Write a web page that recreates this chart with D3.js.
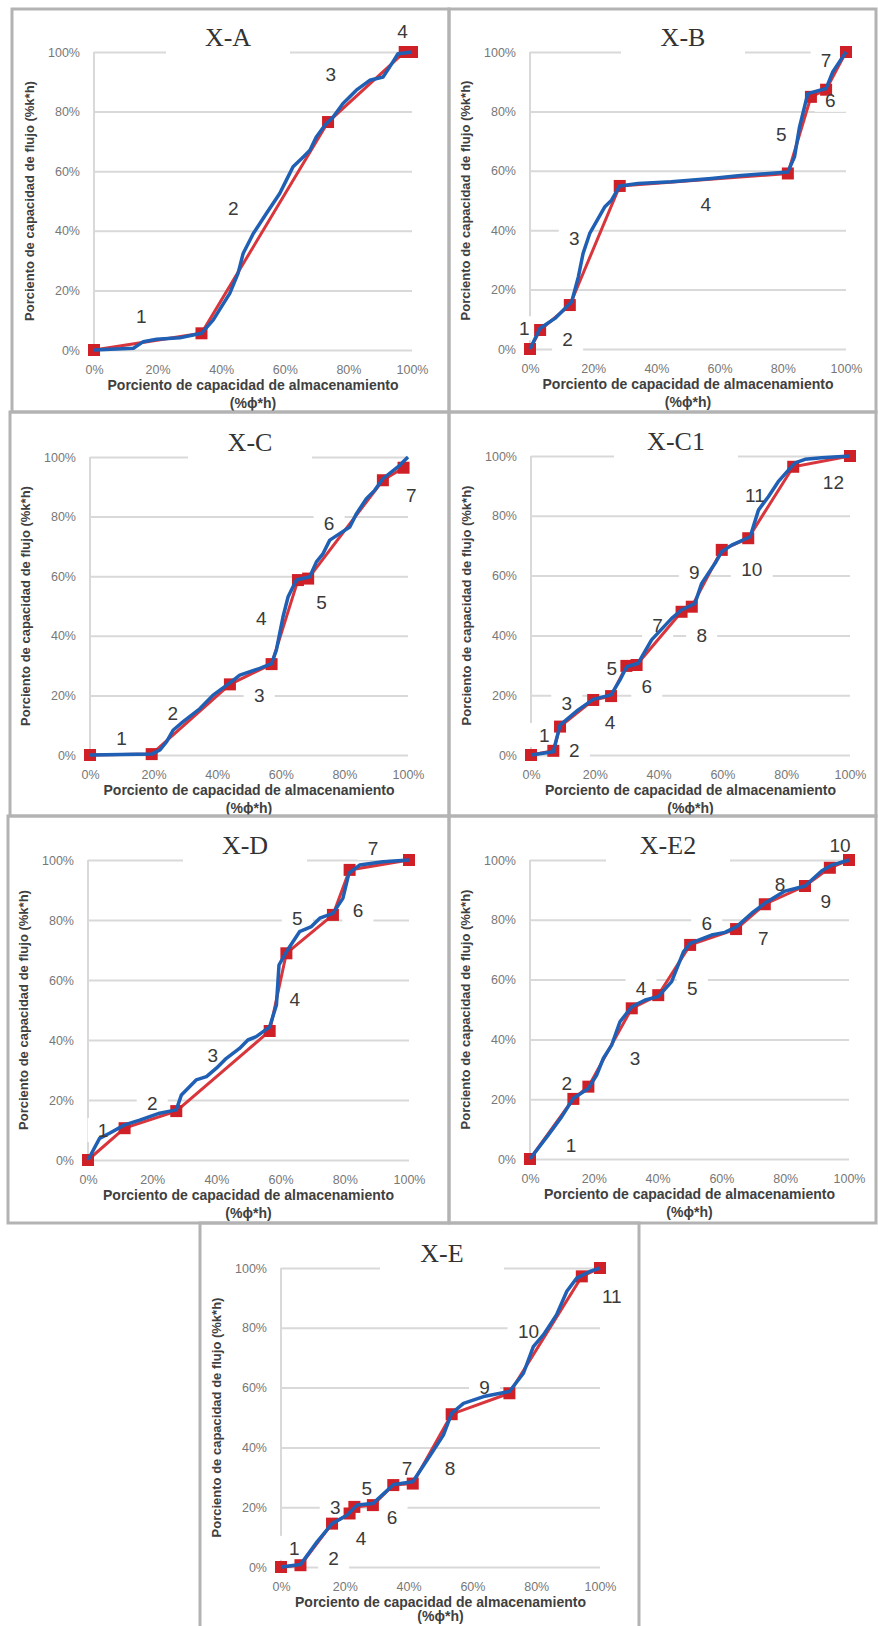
<!DOCTYPE html>
<html>
<head>
<meta charset="utf-8">
<script src="https://cdn.jsdelivr.net/npm/d3@7"></script>
<style>
body { margin: 0; background: #fff; }
svg { display: block; }
.tick text { font-family: "Liberation Sans", Arial, sans-serif; font-size: 12.5px; fill: #777; }
.ax-title { font-family: "Liberation Sans", Arial, sans-serif; font-weight: bold; fill: #404040; }
.num { font-family: "Liberation Sans", Arial, sans-serif; font-size: 19px; fill: #3a3a3a; }
.ptitle { font-family: "Liberation Serif", "Times New Roman", serif; font-size: 26px; fill: #333; }
</style>
</head>
<body>
<svg id="chart" width="878" height="1626"></svg>
<script>
'use strict';

// panel names and shared axis texts
const titles = ['X-A', 'X-B', 'X-C', 'X-C1', 'X-D', 'X-E2', 'X-E'];
const tickValues = [0, 20, 40, 60, 80, 100];
const xTitle = 'Porciento de capacidad de almacenamiento';
const xUnit = '(%ϕ*h)';
const yTitle = 'Porciento de capacidad de flujo (%k*h)';

// [storage %, flow %] - red = flow units (markers), blue = detailed curve
const redXA = [[0, 0], [33.8, 5.6], [73.6, 76.5], [97.7, 100], [100, 100]];
const blueXA = [[0, 0], [12.4, 0.6], [15.5, 2.8], [19.7, 3.6], [27, 4.1], [33.8, 5.6], [37.5, 10.1], [42.7, 19], [45.3, 25.7], [46.9, 32.4], [50.1, 39.1], [54.2, 45.8], [58.4, 52.5], [60.5, 57], [62.6, 61.5], [65.8, 64.8], [67.9, 67], [69.9, 71.5], [72.6, 75.4], [75.2, 78.2], [78.3, 82.7], [82.5, 87.2], [86.7, 90.5], [90.9, 91.6], [93, 95], [95.6, 99.4], [100, 100]];
const labXA = [[14.9, 11.2], [43.8, 47.5], [74.5, 92.7], [97, 107]];

const redXB = [[0, 0], [3.2, 6.4], [12.6, 14.8], [28.4, 54.9], [81.6, 59.1], [88.9, 84.9], [93.7, 87.3], [100, 100]];
const blueXB = [[0, 0], [3.2, 7], [7.9, 10.3], [13.2, 15.9], [15.3, 24.3], [16.8, 32.2], [18.9, 38.9], [23.7, 47.9], [25.8, 50.1], [28.4, 54.9], [34.2, 55.7], [44.7, 56.3], [57.4, 57.4], [65.8, 58.3], [81.6, 59.6], [83.7, 64.7], [85.3, 74.8], [87.9, 86], [93.7, 87.7], [95.8, 93.3], [100, 100]];
const labXB = [[-1.8, 7], [11.9, 3.3], [14, 37.2], [55.6, 48.8], [79.5, 72.5], [95, 83.9], [93.7, 97.2]];

const redXC = [[0, 0], [19.4, 0.3], [44, 23.7], [57.1, 30.5], [65.4, 58.7], [68.6, 59.2], [92.1, 92.2], [98.6, 96.4]];
const blueXC = [[0, 0], [19.4, 0.3], [22, 1.7], [24.1, 4.5], [26.2, 8.4], [29.3, 11.2], [34.6, 15.6], [38.7, 20.1], [44, 24.2], [47.1, 26.8], [53.4, 29.1], [57.1, 30.7], [58.6, 35.2], [60.7, 46.4], [62.3, 53.1], [64.9, 58.7], [69.1, 59.8], [71.2, 64.8], [73.3, 67.6], [75.4, 72.1], [78.5, 74.3], [81.7, 76.5], [83.8, 81], [86.9, 86], [89.5, 88.8], [92.1, 92.7], [97.4, 97.2], [100, 100]];
const labXC = [[9.9, 5.6], [26, 14.2], [53.2, 20.1], [53.9, 45.8], [72.8, 51.4], [75.2, 77.9], [101, 87.2]];

const redXC1 = [[0, 0], [7, 1.4], [9.1, 9.5], [19.5, 18.4], [25.1, 19.7], [29.9, 29.8], [33.1, 30.1], [47.2, 47.9], [50.4, 49.6], [59.8, 68.6], [68.1, 72.5], [82.2, 96.4], [100, 100]];
const blueXC1 = [[0, 0], [7, 1.1], [9.1, 10], [14.8, 15.1], [19.5, 18.6], [25.1, 20.1], [27.9, 25.1], [30, 29.5], [33.6, 30.7], [37.8, 38.5], [44.1, 45.7], [47.2, 48.5], [51.4, 50.7], [53.5, 57.4], [57.7, 64.1], [59.8, 68], [62.9, 70.2], [68.7, 73], [71.3, 81.9], [74.4, 86.4], [77.5, 91.4], [80.7, 95.3], [82.8, 97.7], [85.9, 98.9], [91.1, 99.4], [100, 100]];
const labXC1 = [[4.2, 6.7], [13.6, 1.7], [11.2, 17.3], [24.8, 11.1], [25.3, 29], [36.3, 22.9], [39.7, 43.5], [53.5, 40.1], [51.2, 61.3], [69.2, 62.1], [70.2, 86.9], [94.8, 91.1]];

const redXD = [[0, 0], [11.4, 10.6], [27.5, 16.3], [56.6, 43], [61.8, 68.9], [76.3, 81.7], [81.5, 96.7], [100, 100]];
const blueXD = [[0, 0], [3.6, 7.2], [6.7, 8.9], [11.4, 11.7], [16.1, 13.3], [22.3, 15.6], [27.5, 16.7], [29.1, 21.7], [33.7, 26.7], [36.9, 27.8], [40, 30.6], [43.1, 33.9], [47.2, 37.2], [49.8, 40], [52.4, 41.1], [56.6, 44.4], [58.7, 51.7], [59.5, 65], [61.8, 69.4], [65.9, 76.1], [69.6, 77.8], [72.2, 80.6], [76.3, 82.2], [79.4, 87.2], [81.3, 95.6], [84.6, 98.3], [91.9, 99.4], [100, 100]];
const labXD = [[4.7, 10], [20, 18.9], [38.9, 35], [64.4, 53.7], [65.2, 80.6], [84.1, 83.3], [88.8, 104]];

const redXE2 = [[0, 0], [13.6, 20.1], [18.3, 24.2], [31.9, 50.4], [40.2, 54.8], [50.2, 71.6], [64.6, 76.9], [73.6, 85.2], [86.2, 91.3], [94, 97.4], [100, 100]];
const blueXE2 = [[0, 0], [5.7, 8], [9.9, 14.1], [13.6, 20.3], [18.3, 23.6], [20.9, 28.1], [23, 33.7], [25.6, 38.1], [28.2, 45.9], [31.9, 50.9], [36.1, 53.2], [40.2, 54.3], [44.4, 59.3], [48.1, 69.3], [50.2, 72.1], [56.9, 74.9], [61.1, 75.8], [64.8, 77.7], [69.5, 82.2], [73.6, 85.5], [79.9, 89.6], [86.2, 91.3], [91.4, 96.3], [94.6, 98.3], [100, 100]];
const labXE2 = [[12.9, 4.5], [11.5, 25.3], [32.9, 33.7], [34.8, 57.3], [50.9, 57.3], [55.4, 78.8], [73.1, 73.8], [78.4, 91.9], [92.7, 86.3], [97.2, 104.8]];

const redXE = [[0, 0], [6.1, 0.6], [16, 14.5], [21.5, 17.9], [23, 20.1], [28.8, 20.7], [35.2, 27.4], [41.3, 27.9], [53.5, 51.1], [71.6, 58.1], [94.3, 97.2], [100, 100]];
const blueXE = [[0, 0], [6.1, 0.8], [11.3, 8.4], [16, 14.5], [20.7, 17.3], [23.8, 20.7], [28.8, 21.2], [35.3, 27.6], [41.3, 28.5], [46.8, 37.4], [50.9, 44.1], [53.5, 51.4], [57.2, 54.7], [63.5, 57], [71.6, 58.7], [76, 64.8], [79.1, 73.7], [82.3, 77.7], [86.4, 84.4], [89.6, 92.2], [92.7, 96.6], [96.9, 98.9], [100, 100]];
const labXE = [[4.2, 6.4], [16.5, 3], [17, 20.1], [25.1, 9.5], [26.9, 26.5], [34.8, 16.8], [39.5, 33], [53, 33], [63.8, 60.3], [77.6, 78.8], [103.7, 90.5]];

const redSeries = [redXA, redXB, redXC, redXC1, redXD, redXE2, redXE];
const blueSeries = [blueXA, blueXB, blueXC, blueXC1, blueXD, blueXE2, blueXE];
const labelSeries = [labXA, labXB, labXC, labXC1, labXD, labXE2, labXE];

// page layout: frame [x1,y1,x2,y2], plot [x0%, x100%, y100%, y0%], title centre x
const layout = [
    {frame: [12, 9, 449, 412], plot: [94, 412, 52, 350], titleX: 228},
    {frame: [449, 9, 876, 412], plot: [530, 846, 52, 349], titleX: 683},
    {frame: [10, 412, 449, 816], plot: [90, 408, 457, 755], titleX: 250},
    {frame: [449, 412, 876, 816], plot: [531, 850, 456, 755], titleX: 676},
    {frame: [8, 816, 449, 1223], plot: [88, 409, 860, 1160], titleX: 245},
    {frame: [449, 816, 876, 1223], plot: [530, 849, 860, 1159], titleX: 668},
    {frame: [200, 1223, 639, 1660], plot: [281, 600, 1268, 1567], titleX: 442}
];

const RED = '#cf2027', RED_LINE = '#d8363c', BLUE = '#1f5fb4', GRID = '#d9d9d9';

let svg = d3.select('#chart');

titles.forEach(function(name, i) {
    let L = layout[i];
    let [x0, x1, yTop, yBot] = L.plot;
    let x = d3.scaleLinear().domain([0, 100]).range([x0, x1]);
    let y = d3.scaleLinear().domain([0, 100]).range([yBot, yTop]);
    let g = svg.append('g').attr('class', 'panel');

    // panel frame
    let f = L.frame;
    g.append('rect')
        .attr('x', f[0]).attr('y', f[1])
        .attr('width', f[2] - f[0]).attr('height', f[3] - f[1])
        .attr('fill', 'none')
        .attr('stroke', '#b3b3b3')
        .attr('stroke-width', 3);

    // y axis with gridlines
    let gy = g.append('g')
        .attr('transform', 'translate(' + x0 + ',0)')
        .call(d3.axisLeft(y).tickValues(tickValues)
            .tickFormat(d => d + '%')
            .tickSize(-(x1 - x0)).tickPadding(14));
    gy.select('.domain').remove();
    gy.selectAll('.tick line').attr('stroke', GRID).attr('stroke-width', 2);

    // vertical axis line
    g.append('line')
        .attr('x1', x0).attr('x2', x0)
        .attr('y1', y(0)).attr('y2', y(100))
        .attr('stroke', GRID).attr('stroke-width', 2);

    // x axis labels
    let gx = g.append('g')
        .attr('transform', 'translate(0,' + yBot + ')')
        .call(d3.axisBottom(x).tickValues(tickValues)
            .tickFormat(d => d + '%')
            .tickSize(0).tickPadding(15));
    gx.select('.domain').remove();

    // axis titles
    let cx = (x0 + x1) / 2;
    g.append('text').attr('class', 'ax-title')
        .attr('x', cx).attr('y', yBot + 40)
        .attr('text-anchor', 'middle')
        .style('font-size', '14px')
        .text(xTitle);
    g.append('text').attr('class', 'ax-title')
        .attr('x', cx).attr('y', Math.min(yBot + 58, 1621))
        .attr('text-anchor', 'middle')
        .style('font-size', '14px')
        .text(xUnit);
    g.append('text').attr('class', 'ax-title')
        .attr('transform', 'translate(' + (x0 - 60) + ',' + ((yTop + yBot) / 2) + ') rotate(-90)')
        .attr('text-anchor', 'middle')
        .style('font-size', '13px')
        .text(yTitle);

    // white text boxes behind the title and the flow-unit numbers
    g.append('rect')
        .attr('x', L.titleX - 62).attr('y', yTop - 32)
        .attr('width', 124).attr('height', 38)
        .attr('fill', '#fff');
    let labels = labelSeries[i];
    g.selectAll('rect.lbox')
        .data(labels)
        .enter().append('rect')
        .attr('class', 'lbox')
        .attr('x', (d, k) => x(d[0]) - (String(k + 1).length * 5.5 + 10))
        .attr('y', d => y(d[1]) - 12)
        .attr('width', (d, k) => 2 * (String(k + 1).length * 5.5 + 10))
        .attr('height', 24)
        .attr('fill', '#fff');

    // red flow units
    let line = d3.line().x(d => x(d[0])).y(d => y(d[1]));
    g.append('path')
        .datum(redSeries[i])
        .attr('d', line)
        .attr('fill', 'none')
        .attr('stroke', RED_LINE)
        .attr('stroke-width', 3);
    g.selectAll('rect.mark')
        .data(redSeries[i])
        .enter().append('rect')
        .attr('class', 'mark')
        .attr('x', d => x(d[0]) - 6)
        .attr('y', d => y(d[1]) - 6)
        .attr('width', 12).attr('height', 12)
        .attr('fill', RED);

    // blue detailed curve
    g.append('path')
        .datum(blueSeries[i])
        .attr('d', line)
        .attr('fill', 'none')
        .attr('stroke', BLUE)
        .attr('stroke-width', 3.5)
        .attr('stroke-linejoin', 'round');

    // numbers
    g.selectAll('text.num')
        .data(labels)
        .enter().append('text')
        .attr('class', 'num')
        .attr('x', d => x(d[0]))
        .attr('y', d => y(d[1]))
        .attr('dy', '0.36em')
        .attr('text-anchor', 'middle')
        .text((d, k) => k + 1);

    // panel title
    g.append('text').attr('class', 'ptitle')
        .attr('x', L.titleX).attr('y', yTop - 15)
        .attr('dy', '0.35em')
        .attr('text-anchor', 'middle')
        .text(name);
});
</script>
</body>
</html>
